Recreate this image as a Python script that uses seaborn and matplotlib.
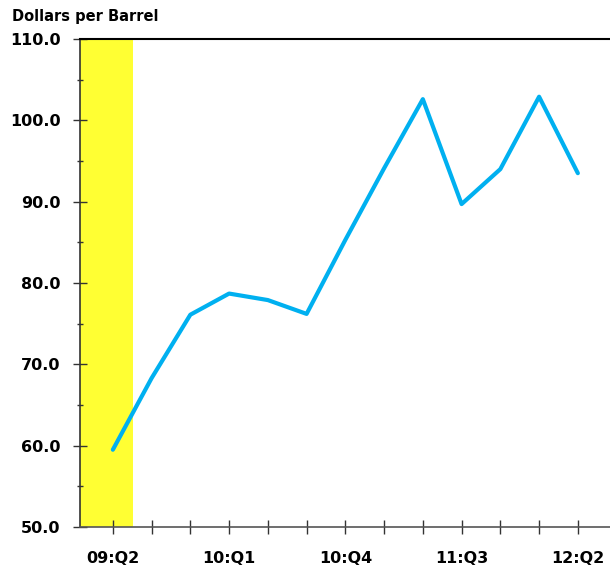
import numpy as np
import pandas as pd
import matplotlib
matplotlib.use('Agg')
import matplotlib.pyplot as plt
import seaborn as sns
from matplotlib.ticker import MultipleLocator

quarters = ['09:Q2', '09:Q3', '09:Q4', '10:Q1', '10:Q2', '10:Q3', '10:Q4',
            '11:Q1', '11:Q2', '11:Q3', '11:Q4', '12:Q1', '12:Q2']
price = [59.5, 68.3, 76.1, 78.7, 77.9, 76.2, 85.3,
         94.1, 102.6, 89.7, 94.0, 102.9, 93.5]
tick_labels = ['09:Q2', '', '', '10:Q1', '', '', '10:Q4', '', '', '11:Q3', '', '', '12:Q2']

df = pd.DataFrame({'pos': np.arange(len(quarters)), 'price': price})

sns.set_style('white')
plt.rcParams['font.family'] = ['DejaVu Sans']
plt.rcParams['text.color'] = 'black'
plt.rcParams['xtick.color'] = 'black'
plt.rcParams['ytick.color'] = 'black'

fig = plt.figure(figsize=(6.1, 5.69), dpi=100)
ax = fig.add_axes([0.131, 0.0738, 0.869, 0.8577])

# shaded recession quarter
ax.axvspan(-0.85, 0.52, color='#FFFF33', zorder=0, lw=0)

sns.lineplot(data=df, x='pos', y='price', color='#00B0F0', lw=3, ax=ax)

ax.set_xlim(-0.85, 12.83)
ax.set_ylim(50, 110)
ax.set_xticks(df['pos'])
ax.set_xticklabels(tick_labels, fontsize=11.5, fontweight='bold')
ax.yaxis.set_major_locator(MultipleLocator(10))
ax.yaxis.set_minor_locator(MultipleLocator(5))
ax.set_yticklabels([f'{v:.1f}' for v in ax.get_yticks()], fontsize=11.5, fontweight='bold')
ax.set_xlabel('')
ax.set_ylabel('')

ax.tick_params(axis='x', bottom=True, direction='inout', length=10, width=1, color='#333333', pad=12)
ax.tick_params(axis='y', which='major', left=True, direction='inout', length=10, width=1, color='#333333', pad=9)
ax.tick_params(axis='y', which='minor', left=True, direction='inout', length=4.5, width=1, color='#333333')

ax.spines['right'].set_visible(False)
ax.spines['top'].set_color('black')
ax.spines['top'].set_linewidth(1.5)
ax.spines['left'].set_color('#333333')
ax.spines['left'].set_linewidth(1.2)
ax.spines['bottom'].set_color('#555555')
ax.spines['bottom'].set_linewidth(1.2)

fig.text(12 / 610, 1 - 17 / 569, 'Dollars per Barrel', fontsize=10.5, fontweight='bold', va='center', ha='left')

fig.savefig('out.png', dpi=100)
